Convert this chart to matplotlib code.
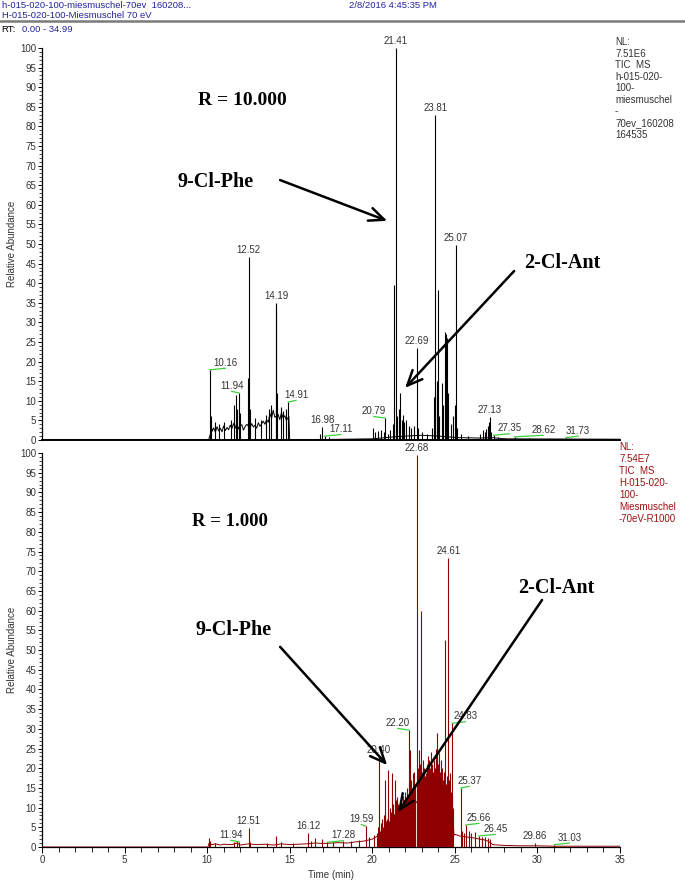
import matplotlib
matplotlib.use("Agg")
import matplotlib.pyplot as plt
from matplotlib.lines import Line2D
from matplotlib.ticker import MultipleLocator

plt.rcParams['font.family'] = ['Liberation Sans', 'DejaVu Sans']

# ------------------ DATA ------------------

# upper trace, R = 10.000 : jagged baseline + peaks
top_base_t = [0.0, 10.08, 10.2, 10.25, 10.3, 10.4, 10.5, 10.6, 10.7, 10.8, 10.9, 11.0,
              11.1, 11.2, 11.3, 11.4, 11.5, 11.6, 11.7, 11.8, 11.9, 12.0, 12.1, 12.2,
              12.3, 12.4, 12.6, 12.7, 12.8, 12.9, 13.0, 13.1, 13.2, 13.3, 13.4, 13.5,
              13.6, 13.7, 13.8, 13.9, 14.0, 14.1, 14.3, 14.4, 14.5, 14.6, 14.7, 14.8,
              14.95, 15.0, 20.0, 21.3, 22.0, 23.0, 24.0, 25.2, 26.5, 27.3, 28.0, 35.0]
top_base_y = [0.0, 0.0, 1.5, 4.0, 2.2, 3.1, 2.0, 3.4, 2.3, 3.0, 2.1, 3.6,
              2.4, 3.2, 2.6, 3.8, 2.9, 4.2, 3.0, 4.5, 2.8, 3.6, 3.9, 2.5,
              3.4, 4.0, 3.1, 4.2, 3.3, 3.8, 3.0, 4.4, 3.5, 4.1, 4.8, 4.0,
              5.2, 4.5, 6.8, 5.5, 7.6, 5.8, 6.5, 5.2, 7.0, 5.6, 6.2, 5.0,
              6.0, 0.0, 0.3, 0.8, 1.0, 1.2, 1.0, 0.6, 0.5, 0.6, 0.3, 0.2]
top_peak_t = [10.16, 10.22, 10.45, 10.7, 11.05, 11.45, 11.62, 11.72, 11.78, 11.94, 12.02,
              12.45, 12.52, 12.58, 12.9, 13.25, 13.55, 13.75, 13.85, 14.15, 14.19, 14.25,
              14.45, 14.62, 14.8, 14.91, 16.85, 16.98, 17.11, 17.4, 20.05, 20.15, 20.35,
              20.55, 20.68, 20.79, 20.95, 21.1, 21.25, 21.34, 21.41, 21.5, 21.6, 21.68,
              21.78, 21.85, 21.95, 22.05, 22.2, 22.35, 22.5, 22.69, 22.78, 23.0, 23.3,
              23.6, 23.72, 23.77, 23.81, 23.89, 23.96, 24.05, 24.2, 24.3, 24.4, 24.45,
              24.52, 24.6, 24.75, 24.9, 25.0, 25.07, 25.15, 25.4, 25.8, 26.55, 26.7,
              26.82, 26.9, 27.0, 27.08, 27.13, 27.2, 27.35, 27.6, 28.0, 28.62, 29.5, 31.73]
top_peak_y = [17.9, 6.0, 4.5, 4.0, 4.5, 5.0, 9.0, 11.5, 8.0, 12.0, 7.0,
              15.8, 46.7, 8.0, 5.5, 5.0, 6.5, 8.0, 9.0, 34.0, 35.0, 12.0,
              8.5, 7.5, 8.0, 9.7, 1.5, 3.4, 1.0, 0.8, 3.0, 2.0, 2.2,
              2.5, 2.0, 5.6, 1.5, 2.5, 4.0, 39.5, 100.0, 6.0, 8.0, 12.0,
              5.0, 6.5, 4.5, 5.0, 3.5, 3.0, 3.5, 23.5, 3.0, 2.0, 1.5,
              3.0, 11.0, 12.0, 83.0, 15.0, 38.3, 6.0, 14.5, 9.0, 27.5, 27.0,
              26.0, 12.0, 4.0, 6.0, 9.0, 49.7, 3.0, 1.5, 1.0, 1.5, 2.5,
              2.0, 2.8, 3.5, 4.5, 5.8, 2.0, 1.2, 0.8, 0.5, 0.8, 0.4, 0.6]
top_label_rt = [10.16, 11.94, 12.52, 14.19, 14.91, 16.98, 17.11, 20.79, 21.41, 22.69,
                23.81, 25.07, 27.13, 27.35, 28.62, 31.73]

# lower trace, R = 1.000 : baseline with the unresolved hump + peaks
bot_base_t = [0.0, 10.05, 10.12, 10.3, 10.5, 10.8, 11.0, 11.5, 11.8, 12.0, 12.5, 13.0,
              13.5, 14.0, 14.5, 15.0, 15.5, 16.0, 16.5, 17.0, 17.5, 18.0, 18.5, 19.0,
              19.5, 19.8, 20.0, 20.2, 20.4, 20.6, 20.8, 21.0, 21.2, 21.4, 21.6, 21.8,
              22.0, 22.2, 22.4, 22.6, 22.8, 23.0, 23.2, 23.4, 23.6, 23.8, 24.0, 24.2,
              24.4, 24.6, 24.8, 24.9, 24.95, 25.0, 25.3, 25.6, 26.0, 26.5, 26.8, 27.0,
              27.3, 28.0, 29.0, 30.0, 31.0, 35.0]
bot_base_y = [0.0, 0.0, 1.0, 0.6, 0.8, 0.5, 0.7, 0.6, 1.0, 0.5, 0.8, 0.6,
              0.7, 0.5, 0.8, 0.6, 0.7, 0.8, 1.0, 0.9, 1.0, 1.1, 1.0, 1.3,
              1.5, 1.8, 2.0, 2.5, 3.0, 3.5, 4.0, 4.5, 5.0, 5.8, 6.5, 7.2,
              8.0, 9.0, 10.0, 11.0, 12.0, 13.0, 14.0, 15.0, 15.5, 15.0, 14.0, 13.0,
              12.0, 11.0, 9.0, 6.0, 3.0, 3.2, 2.8, 2.6, 2.4, 2.0, 1.8, 1.5,
              0.6, 0.4, 0.3, 0.3, 0.2, 0.2]
bot_peak_t = [10.12, 10.2, 10.5, 11.6, 11.8, 11.94, 12.51, 12.6, 13.6, 14.15, 14.5, 15.2,
              16.12, 16.3, 16.54, 16.94, 17.28, 17.6, 18.2, 18.7, 19.2, 19.59, 19.8, 20.1,
              20.40, 20.77, 20.98, 21.22, 21.38, 21.48, 21.68, 21.99, 22.20, 22.29, 22.45,
              22.68, 22.80, 22.95, 23.10, 23.26, 23.46, 23.70, 23.90, 24.06, 24.23, 24.41,
              24.61, 24.71, 24.83, 25.37, 25.45, 25.55, 25.66, 25.85, 26.0, 26.2, 26.45,
              26.63, 26.8, 27.0, 27.1, 29.86, 31.03]
bot_peak_y = [2.3, 1.5, 1.0, 1.2, 1.5, 1.3, 4.8, 1.2, 1.1, 2.8, 1.2, 0.9,
              3.6, 1.5, 2.3, 2.0, 1.2, 1.3, 1.4, 1.5, 1.8, 5.3, 2.5, 3.0,
              22.9, 17.0, 19.5, 18.7, 17.0, 12.8, 8.6, 10.2, 29.7, 24.6, 18.7,
              99.5, 24.6, 60.0, 20.4, 18.7, 22.0, 18.7, 28.9, 23.8, 17.0, 52.5,
              73.3, 18.7, 31.4, 15.0, 4.0, 3.5, 5.6, 4.0, 3.5, 3.8, 2.8,
              2.6, 2.5, 2.2, 2.0, 1.0, 0.6]
# fast fluctuation riding on the hump
hump_t = [20.30, 20.35, 20.45, 20.50, 20.55, 20.60, 20.65, 20.70, 20.75, 20.80, 20.85,
          20.90, 20.95, 21.00, 21.05, 21.10, 21.15, 21.20, 21.25, 21.30, 21.35, 21.40,
          21.45, 21.50, 21.55, 21.60, 21.65, 21.70, 21.75, 21.80, 21.85, 21.90, 21.95,
          22.00, 22.05, 22.10, 22.15, 22.25, 22.30, 22.35, 22.40, 22.50, 22.55, 22.60,
          22.70, 22.75, 22.85, 22.90, 23.00, 23.05, 23.15, 23.20, 23.30, 23.35, 23.40,
          23.50, 23.55, 23.60, 23.65, 23.75, 23.80, 23.85, 24.00, 24.10, 24.15, 24.20,
          24.25, 24.30, 24.35, 24.45, 24.50, 24.55, 24.65, 24.75, 24.85, 24.90]
hump_y = [3.5, 5.0, 4.0, 6.0, 4.5, 7.0, 5.0, 8.0, 6.0, 9.0, 6.5,
          7.0, 8.0, 6.5, 10.0, 7.0, 9.0, 8.0, 11.0, 8.5, 10.0, 9.0,
          12.0, 9.0, 11.0, 10.0, 12.0, 9.5, 11.0, 10.0, 13.0, 11.0, 12.0,
          14.0, 12.0, 15.0, 13.0, 16.0, 14.0, 17.0, 15.0, 16.0, 19.0, 16.0,
          18.0, 20.0, 17.0, 21.0, 19.0, 22.0, 20.0, 18.0, 21.0, 19.0, 23.0,
          20.0, 24.0, 21.0, 19.0, 22.0, 20.0, 25.0, 21.0, 19.0, 22.0, 18.0,
          20.0, 17.0, 19.0, 16.0, 18.0, 15.0, 17.0, 14.0, 13.0, 10.0]
bot_label_rt = [11.94, 12.51, 16.12, 17.28, 19.59, 20.40, 22.20, 22.68, 24.61, 24.83,
                25.37, 25.66, 26.45, 29.86, 31.03]

# label shifts (min) for labels that sit beside their peak with a green leader
top_label_dx = {10.16: 0.95, 11.94: -0.45, 14.91: 0.47, 17.11: 0.98, 20.79: -0.7,
                27.35: 0.95, 28.62: 1.73, 31.73: 0.74}
bot_label_dx = {11.94: -0.5, 17.28: 0.97, 19.59: -0.26, 22.20: -0.66, 24.83: 0.8,
                25.37: 0.5, 25.66: 0.8, 26.45: 1.0, 31.03: 0.9}

BLUE = '#23239b'
RED = '#8e0000'
LBL = '#333333'

# ------------------ FIGURE ------------------
fig = plt.figure(figsize=(6.85, 8.8), dpi=100)
ax1 = fig.add_axes([0.0613, 0.5, 0.8438, 0.4455])
ax2 = fig.add_axes([0.0613, 0.0375, 0.8438, 0.4477])


def style_axis(ax):
    ax.set_xlim(0, 35)
    ax.set_ylim(0, 100)
    for s in ['top', 'right']:
        ax.spines[s].set_visible(False)
    ax.spines['left'].set_linewidth(0.9)
    ax.yaxis.set_major_locator(MultipleLocator(5))
    ax.yaxis.set_minor_locator(MultipleLocator(1))
    ax.tick_params(axis='y', which='major', length=3.2, width=0.7, pad=1,
                   labelsize=7, labelcolor=LBL)
    ax.tick_params(axis='y', which='minor', length=2.2, width=0.5)
    ax.set_ylabel("Relative Abundance", fontsize=7, color=LBL)
    ax.yaxis.set_label_coords(-0.043, 0.5)


def draw_trace(ax, bt, by, pt, py, color):
    ax.plot(bt, by, color=color, lw=0.7, zorder=3)
    ax.vlines(pt, 0, py, color=color, lw=0.8, zorder=3)


def draw_labels(ax, rts, pt, py, shifts):
    heights = dict(zip(pt, py))
    for rt in rts:
        h = heights[rt]
        dx = shifts.get(rt, 0.0)
        if dx:
            ax.plot([rt, rt + dx], [h, h + 0.4], color='#3ccf3c', lw=0.9,
                    zorder=4, clip_on=False)
        ax.text(rt + dx, h + 1.0, f"{rt:.2f}", ha='center', va='baseline',
                fontsize=7, color=LBL, clip_on=False, zorder=5)


def arrow(ax, tip, start):
    ax.annotate("", xy=tip, xytext=start,
                arrowprops=dict(arrowstyle='->,head_length=0.9,head_width=0.4',
                                lw=1.8, color='black', shrinkA=0, shrinkB=0,
                                mutation_scale=12), zorder=6)


serif = dict(family=['Liberation Serif', 'DejaVu Serif'], weight='bold', color='black')

# upper chromatogram
style_axis(ax1)
ax1.spines['bottom'].set_linewidth(1.4)
ax1.tick_params(axis='x', bottom=False, labelbottom=False)
draw_trace(ax1, top_base_t, top_base_y, top_peak_t, top_peak_y, 'black')
draw_labels(ax1, top_label_rt, top_peak_t, top_peak_y, top_label_dx)
ax1.text(12.11, 86.5, "R = 10.000", ha='center', va='center', fontsize=14, **serif)
ax1.text(10.54, 65.8, "9-Cl-Phe", ha='center', va='center', fontsize=14.5, **serif)
ax1.text(31.5, 45.2, "2-Cl-Ant", ha='center', va='center', fontsize=14.5, **serif)
arrow(ax1, (20.9, 55.9), (14.42, 66.3))
arrow(ax1, (21.99, 13.3), (28.59, 43.1))

# lower chromatogram
style_axis(ax2)
ax2.spines['bottom'].set_linewidth(0.9)
ax2.xaxis.set_major_locator(MultipleLocator(5))
ax2.xaxis.set_minor_locator(MultipleLocator(1))
ax2.tick_params(axis='x', which='major', length=4, width=0.7, pad=2,
                labelsize=7, labelcolor=LBL)
ax2.tick_params(axis='x', which='minor', length=3.5, width=0.6)
ax2.set_xlabel("Time (min)", fontsize=7, color=LBL, labelpad=3)
draw_trace(ax2, bot_base_t, bot_base_y, bot_peak_t, bot_peak_y, RED)
ax2.vlines(hump_t, 0, hump_y, color=RED, lw=0.8, zorder=3)
draw_labels(ax2, bot_label_rt, bot_peak_t, bot_peak_y, bot_label_dx)
ax2.text(11.39, 82.7, "R = 1.000", ha='center', va='center', fontsize=13.5, **serif)
ax2.text(11.63, 55.1, "9-Cl-Phe", ha='center', va='center', fontsize=14.5, **serif)
ax2.text(31.13, 65.7, "2-Cl-Ant", ha='center', va='center', fontsize=14.5, **serif)
arrow(ax2, (20.9, 20.8), (14.42, 50.8))
arrow(ax2, (21.56, 8.9), (30.28, 62.7))

# header of the Xcalibur print-out
fig.text(2 / 685, 1 - 5 / 880, "h-015-020-100-miesmuschel-70ev  160208...",
         fontsize=6.8, color=BLUE, va='center')
fig.text(349 / 685, 1 - 5 / 880, "2/8/2016 4:45:35 PM", fontsize=6.8,
         color=BLUE, va='center')
fig.text(2 / 685, 1 - 15 / 880, "H-015-020-100-Miesmuschel 70 eV",
         fontsize=6.8, color=BLUE, va='center')
fig.add_artist(Line2D([0, 1], [1 - 21.5 / 880] * 2, color='#7a7a7a', lw=1.8))
fig.text(1 / 685, 1 - 29 / 880, "RT:", fontsize=6.8, color='black', va='center')
fig.text(22 / 685, 1 - 29 / 880, "0.00 - 34.99", fontsize=6.8, color=BLUE, va='center')

# trace info blocks at the right
fig.text(615 / 685, 1 - 37 / 880,
         "NL:\n7.51E6\nTIC  MS\nh-015-020-\n100-\nmiesmuschel\n-\n70ev_160208\n164535",
         fontsize=7, color=LBL, va='top', ha='left', linespacing=1.2)
fig.text(619 / 685, 1 - 442 / 880,
         "NL:\n7.54E7\nTIC  MS\nH-015-020-\n100-\nMiesmuschel\n-70eV-R1000",
         fontsize=7, color='#9b1010', va='top', ha='left', linespacing=1.25)

fig.savefig("out.png", dpi=100)
